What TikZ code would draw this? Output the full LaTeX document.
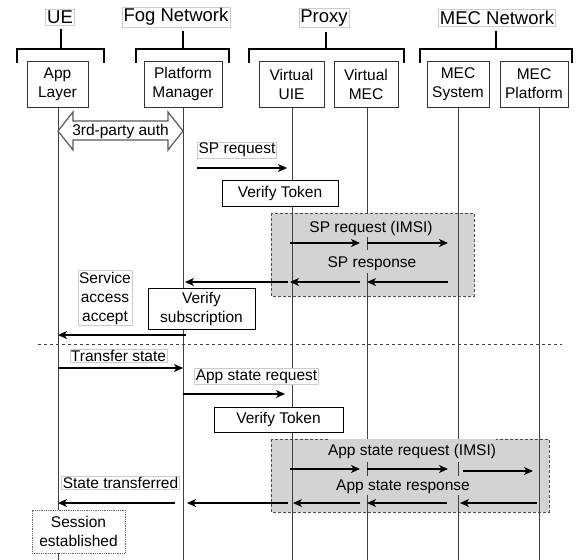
\documentclass[tikz,border=0pt]{standalone}
\usepackage{fontspec}
\setmainfont{Liberation Sans}
\usetikzlibrary{arrows.meta}
\definecolor{boxgray}{RGB}{211,211,211}
\begin{document}
\begin{tikzpicture}[x=1pt,y=-1pt,
  font=\fontsize{15.5}{19}\selectfont,
  partbox/.style={draw=black!80, line width=1pt, fill=white, align=center, inner sep=0pt, minimum height=46pt},
  grplbl/.style={draw=gray!40, line width=0.6pt, fill=white, inner sep=1.5pt, font=\fontsize{18.5}{21}\selectfont},
  lbl/.style={draw=gray!40, line width=0.6pt, fill=white, inner sep=1pt, align=center},
  glbl/.style={fill=boxgray, inner sep=0pt, anchor=base},
  actbox/.style={draw=black, line width=1pt, fill=white, align=center, inner sep=0pt},
  lifeline/.style={draw=black!75, line width=1pt},
  msg/.style={draw=black, line width=1.1pt, -{Stealth[length=9pt,width=8pt,inset=2.5pt]}},
  brk/.style={draw=black, line width=1.6pt},
  grpframe/.style={draw=black!70, dash pattern=on 3pt off 2pt, fill=boxgray, line width=0.8pt}
]
\useasboundingbox (0,0) rectangle (579,560);
\fill[white] (0,0) rectangle (579,560);

% group labels
\node[grplbl] (gUE) at (60,17) {UE};
\node[grplbl] (gFog) at (176,17) {Fog Network};
\node[grplbl] (gPx) at (324,18) {Proxy};
\node[grplbl] (gMEC) at (497,18) {MEC Network};

% brackets
\coordinate (bUE) at (61,49);
\coordinate (bFog) at (183,49);
\coordinate (bPx) at (326,49);
\coordinate (bMEC) at (496,49);
\draw[brk, shorten <=4pt] (gUE.south -| bUE) -- (bUE);
\draw[brk, shorten <=4pt] (gFog.south -| bFog) -- (bFog);
\draw[brk, shorten <=4pt] (gPx.south -| bPx) -- (bPx);
\draw[brk, shorten <=4pt] (gMEC.south -| bMEC) -- (bMEC);
\draw[brk] (17,63) -- (17,49) -- (104,49) -- (104,63);
\draw[brk] (136,63) -- (136,49) -- (229,49) -- (229,63);
\draw[brk] (249,63) -- (249,49) -- (404,49) -- (404,63);
\draw[brk] (420,63) -- (420,49) -- (572,49) -- (572,63);

% gray frames
\draw[grpframe] (271,213) rectangle (474,296);
\draw[grpframe] (271,439) rectangle (549,512);

% participants
\node[partbox, minimum width=61pt] (app) at (57.5,84) {App\\Layer};
\node[partbox, minimum width=78pt] (pm) at (183,84) {Platform\\Manager};
\node[partbox, minimum width=65pt] (vu) at (291.5,84) {Virtual\\UIE};
\node[partbox, minimum width=64pt] (vm) at (366,84) {Virtual\\MEC};
\node[partbox, minimum width=62pt] (ms) at (458,84) {MEC\\System};
\node[partbox, minimum width=68pt] (mp) at (534,84) {MEC\\Platform};

% lifelines
\coordinate (eA) at (58,560);
\coordinate (eP) at (183,560);
\coordinate (eU) at (292,560);
\coordinate (eV) at (367,560);
\coordinate (eS) at (458,560);
\coordinate (eM) at (539,560);
\draw[lifeline] (app.south -| eA) -- (eA);
\draw[lifeline] (pm.south -| eP) -- (eP);
\draw[lifeline] (vu.south -| eU) -- (eU);
\draw[lifeline] (vm.south -| eV) -- (eV);
\draw[lifeline] (ms.south -| eS) -- (eS);
\draw[lifeline] (mp.south -| eM) -- (eM);

% 3rd-party auth
\draw[draw=black!65, line width=1.2pt, fill=white] (58,131) -- (73,112) -- (73,121) -- (168,121) -- (168,112) -- (183,131) -- (168,150) -- (168,140) -- (73,140) -- (73,150) -- cycle;
\node[inner sep=0pt] (auth) at (120.5,131) {3rd-party auth};

% SP request
\node[lbl] (spreq) at (237,150) {SP request};
\draw[msg] (197,168) -- (287,168);
\node[actbox, minimum width=116pt, minimum height=26pt] (vt1) at (280,193) {Verify Token};

\node[glbl, text height=18pt, text depth=5pt] (spimsi) at (371,232) {SP request (IMSI)};
\draw[msg] (290,243) -- (360,243);
\draw[msg] (367,243) -- (448,243);
\node[glbl, text height=17pt, text depth=6pt] (spresp) at (372,267) {SP response};
\draw[msg] (448,282) -- (367,282);
\draw[msg] (360,282) -- (290,282);
\draw[msg] (288,282) -- (185,282);

\node[lbl] (saa) at (105,298) {Service\\access\\accept};
\node[actbox, minimum width=107pt, minimum height=41pt] (vsub) at (201.5,308.5) {Verify\\subscription};
\draw[msg] (186,335) -- (58,335);

% separator
\coordinate (sepL) at (38,344);
\coordinate (sepR) at (562,344);
\draw[black!75, dash pattern=on 3pt off 3pt, line width=0.8pt] (sepL) -- (sepR);

% second phase
\node[lbl] (ts) at (118.5,355.5) {Transfer state};
\draw[msg] (58,368) -- (183,368);
\node[lbl] (asr) at (256.5,376.5) {App state request};
\draw[msg] (183,394) -- (285,394);
\node[actbox, minimum width=129pt, minimum height=25pt] (vt2) at (278.5,419.5) {Verify Token};

\node[glbl, text height=16pt, text depth=7pt] (asimsi) at (412,455) {App state request (IMSI)};
\draw[msg] (290,469) -- (360,469);
\draw[msg] (367,469) -- (448,469);
\draw[msg] (463,471) -- (533,471);
\node[glbl, text height=14pt, text depth=5pt] (asresp) at (403,490) {App state response};
\draw[msg] (537,503) -- (460,503);
\draw[msg] (447,503) -- (367,503);
\draw[msg] (360,503) -- (293,503);
\draw[msg] (288,503) -- (187,503);
\draw[msg] (175,503) -- (58,503);
\node[lbl] (st) at (120.5,483) {State transferred};
\node[draw=black!60, densely dotted, fill=white, line width=0.8pt, minimum width=93pt, minimum height=43pt, align=center, inner sep=0pt] (se) at (78.5,531.5) {Session\\established};
\end{tikzpicture}
\end{document}
